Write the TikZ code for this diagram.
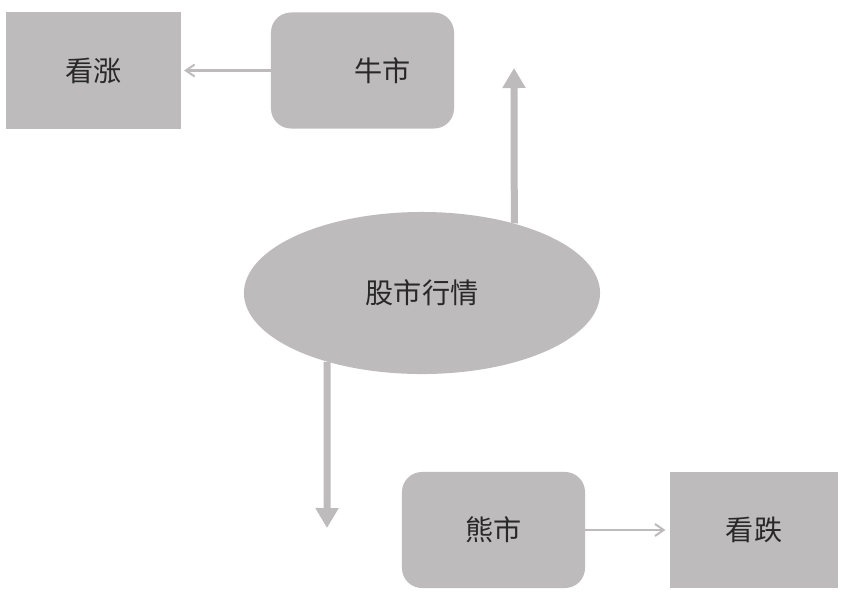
\documentclass[tikz,border=0pt]{standalone}
\usepackage{fontspec}
\newfontfamily\cjk{Noto Sans CJK SC}
\usetikzlibrary{positioning, shapes.geometric, arrows.meta}
\definecolor{boxgray}{RGB}{189,187,188}
\definecolor{txtgray}{RGB}{40,40,40}

\begin{document}
\begin{tikzpicture}[x=0.025cm, y=-0.025cm,
    font=\cjk\fontsize{20}{24}\selectfont, text=txtgray,
    sqbox/.style={fill=boxgray, minimum width=4.375cm, minimum height=2.9cm,
      inner sep=0pt},
    rdbox/.style={sqbox, rounded corners=0.5cm, minimum width=4.575cm},
    thin arrow/.style={draw=boxgray, line width=1.6pt,
      -{Straight Barb[length=0.22cm, width=0.3cm, line width=1.4pt]}},
    thick arrow/.style={draw=boxgray, line width=0.175cm,
      -{Triangle[length=0.5cm, width=0.55cm]}}]
    % Page frame, 844 x 595 pixels
    \useasboundingbox (0,0) rectangle (844,595);
    % Top row: bull market -> look up
    \node[sqbox] (kanzhang) at (93.5,70.5) {看涨};
    \node[rdbox] (niushi) at (362.5,70.5) {\hspace{28pt}牛市};
    % Centre ellipse
    \node[ellipse, fill=boxgray, minimum width=8.9cm, minimum height=4.05cm,
      inner sep=0pt] (hangqing) at (422,293) {股市行情};
    % Bottom row: bear market -> look down
    \node[rdbox] (xiongshi) at (493.5,530) {熊市};
    \node[sqbox, minimum width=4.2cm] (kandie) at (754,530) {看跌};
    % Free ends of the two thick arrows
    \coordinate (uptip) at (514,68);
    \coordinate (downtip) at (327,528);
    \draw[thick arrow] (hangqing.37) -- (uptip);
    \draw[thick arrow] (hangqing.216) -- (downtip);
    % Thin arrows between boxes
    \draw[thin arrow] (niushi.west) -- ([xshift=2pt]kanzhang.east);
    \draw[thin arrow] (xiongshi.east) -- ([xshift=-3pt]kandie.west);
\end{tikzpicture}
\end{document}
